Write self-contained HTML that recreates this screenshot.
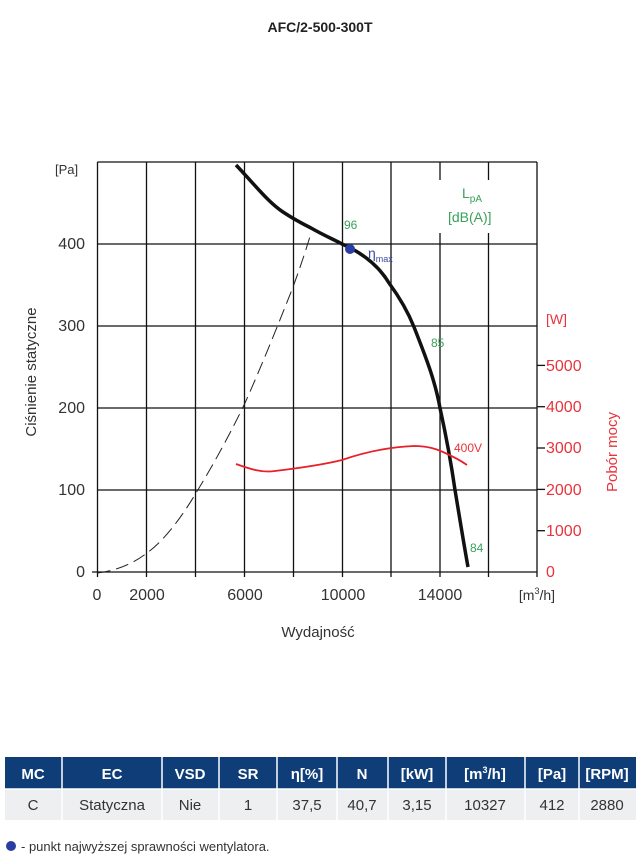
<!DOCTYPE html>
<html><head><meta charset="utf-8"><style>
body{margin:0;background:#fff;width:641px;height:864px;overflow:hidden;font-family:"Liberation Sans",sans-serif}
</style></head><body>
<svg width="641" height="864" xmlns="http://www.w3.org/2000/svg" style="position:absolute;left:0;top:0;font-family:'Liberation Sans',sans-serif">
<text x="320" y="32" text-anchor="middle" font-size="14" font-weight="bold" fill="#222">AFC/2-500-300T</text>
<g stroke="#111" stroke-width="1.3">
<line x1="97.5" y1="162" x2="537" y2="162"/>
<line x1="97.5" y1="244" x2="537" y2="244"/>
<line x1="97.5" y1="326" x2="537" y2="326"/>
<line x1="97.5" y1="408" x2="537" y2="408"/>
<line x1="97.5" y1="490" x2="537" y2="490"/>
<line x1="92" y1="572" x2="537" y2="572"/>
<line x1="97.5" y1="162" x2="97.5" y2="577"/>
<line x1="146.5" y1="162" x2="146.5" y2="577"/>
<line x1="195.5" y1="162" x2="195.5" y2="577"/>
<line x1="244.5" y1="162" x2="244.5" y2="577"/>
<line x1="293.5" y1="162" x2="293.5" y2="577"/>
<line x1="342.5" y1="162" x2="342.5" y2="577"/>
<line x1="391" y1="162" x2="391" y2="577"/>
<line x1="440" y1="162" x2="440" y2="180"/>
<line x1="440" y1="233" x2="440" y2="577"/>
<line x1="488.5" y1="162" x2="488.5" y2="180"/>
<line x1="488.5" y1="233" x2="488.5" y2="577"/>
<line x1="537" y1="162" x2="537" y2="577"/>
<line x1="537" y1="530.7" x2="545" y2="530.7"/>
<line x1="537" y1="489.4" x2="545" y2="489.4"/>
<line x1="537" y1="448" x2="545" y2="448"/>
<line x1="537" y1="406.7" x2="545" y2="406.7"/>
<line x1="537" y1="365.4" x2="545" y2="365.4"/>
</g>
<g font-size="16" fill="#333" text-anchor="end">
<text x="85" y="249">400</text><text x="85" y="331">300</text><text x="85" y="413">200</text><text x="85" y="495">100</text><text x="85" y="577">0</text>
</g>
<text x="55" y="174" font-size="13" fill="#333">[Pa]</text>
<g font-size="16" fill="#333" text-anchor="middle">
<text x="97" y="600">0</text><text x="147" y="600">2000</text><text x="245" y="600">6000</text><text x="343" y="600">10000</text><text x="440" y="600">14000</text>
</g>
<text x="537" y="600" font-size="14" fill="#333" text-anchor="middle">[m<tspan font-size="9" dy="-6">3</tspan><tspan dy="6">/h]</tspan></text>
<text x="318" y="637" font-size="15" fill="#333" text-anchor="middle">Wydajność</text>
<text transform="translate(36,372) rotate(-90)" font-size="15" fill="#333" text-anchor="middle">Ciśnienie statyczne</text>
<g font-size="16" fill="#e8343c">
<text x="546" y="577">0</text><text x="546" y="536">1000</text><text x="546" y="495">2000</text><text x="546" y="453">3000</text><text x="546" y="412">4000</text><text x="546" y="371">5000</text>
<text x="546" y="324" font-size="14">[W]</text>
</g>
<text transform="translate(617,452) rotate(-90)" font-size="15" fill="#e8343c" text-anchor="middle">Pobór mocy</text>
<path d="M97.5,573 C120,570 135,562 147,553 C165,540 183,515 196,493 C215,462 232,430 245,403 C262,365 280,320 293,287 C300,268 306,250 311,233" fill="none" stroke="#222" stroke-width="1" stroke-dasharray="13,6"/>
<path d="M236,165 C255,185 268,202 283,212 C295,220 303,224 311,228 C325,236 335,240 342,244 C365,254 380,268 389,283 C400,298 408,312 414,327 C425,355 435,380 440,408 C447,440 451,462 455,490 C460,520 464,545 468,567" fill="none" stroke="#111" stroke-width="3.5"/>
<path d="M236,464 C250,469 262,473 275,471 C300,468 322,465 342,460 C365,452 390,447 414,446 C428,446 436,449 443,452 C452,456 460,460 467,465" fill="none" stroke="#e8202a" stroke-width="1.8"/>
<circle cx="350" cy="249" r="5" fill="#2a3ea0"/>
<text x="368" y="258" font-size="14" fill="#3a4aa0">η<tspan font-size="9" dy="4">max</tspan></text>
<g fill="#3aa05a" font-size="12">
<text x="344" y="229">96</text><text x="431" y="347">85</text><text x="470" y="552">84</text>
<text x="462" y="198" font-size="14">L<tspan font-size="10" dy="4">pA</tspan></text>
<text x="448" y="222" font-size="14">[dB(A)]</text>
</g>
<text x="454" y="452" font-size="12" fill="#e8343c">400V</text>
<!-- table -->
<rect x="5" y="757" width="631" height="32" fill="#0e3d78"/>
<rect x="5" y="789" width="631" height="31" fill="#eeeff1"/>
<g stroke="#fff" stroke-width="1.5">
<line x1="62" y1="757" x2="62" y2="820"/><line x1="162" y1="757" x2="162" y2="820"/><line x1="219" y1="757" x2="219" y2="820"/><line x1="277" y1="757" x2="277" y2="820"/><line x1="337" y1="757" x2="337" y2="820"/><line x1="388" y1="757" x2="388" y2="820"/><line x1="446" y1="757" x2="446" y2="820"/><line x1="525" y1="757" x2="525" y2="820"/><line x1="579" y1="757" x2="579" y2="820"/>
<line x1="5" y1="789" x2="636" y2="789"/>
</g>
<g font-size="15" font-weight="bold" fill="#fff" text-anchor="middle">
<text x="33" y="779">MC</text><text x="112" y="779">EC</text><text x="190" y="779">VSD</text><text x="248" y="779">SR</text><text x="307" y="779">η[%]</text><text x="362" y="779">N</text><text x="417" y="779">[kW]</text><text x="485" y="779">[m<tspan font-size="9" dy="-6">3</tspan><tspan dy="6">/h]</tspan></text><text x="552" y="779">[Pa]</text><text x="607" y="779">[RPM]</text>
</g>
<g font-size="15" fill="#333" text-anchor="middle">
<text x="33" y="810">C</text><text x="112" y="810">Statyczna</text><text x="190" y="810">Nie</text><text x="248" y="810">1</text><text x="307" y="810">37,5</text><text x="362" y="810">40,7</text><text x="417" y="810">3,15</text><text x="485" y="810">10327</text><text x="552" y="810">412</text><text x="607" y="810">2880</text>
</g>
<circle cx="11" cy="846" r="5" fill="#2a3ea0"/>
<text x="21" y="851" font-size="13" fill="#333">- punkt najwyższej sprawności wentylatora.</text>
</svg>
</body></html>
